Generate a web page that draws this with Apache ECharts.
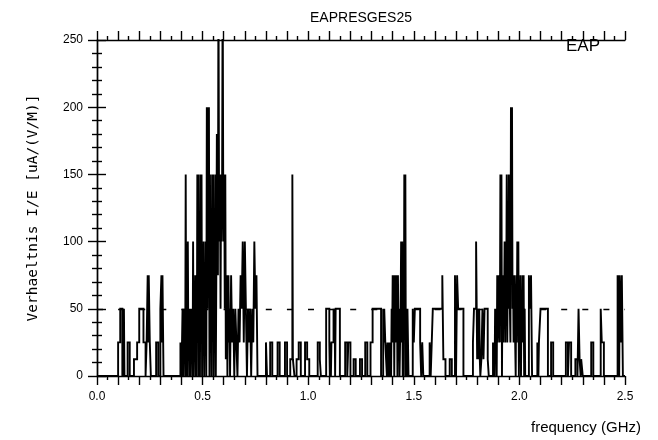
<!DOCTYPE html>
<html><head><meta charset="utf-8">
<script src="https://cdn.jsdelivr.net/npm/echarts@6/dist/echarts.min.js"></script>
<style>html,body{margin:0;padding:0;background:#fff}#c{width:658px;height:440px}</style>
</head><body><div id="c"></div>
<script>
// Step-function breakpoints [frequency GHz, value]; value holds until the next breakpoint.
const segA = [[0,0],[0.100,25],[0.110,50],[0.120,0],[0.1225,50],[0.125,0],[0.1275,50],[0.130,0],[0.145,25],[0.155,0],
 [0.175,12.5],[0.190,25],[0.200,50],[0.220,25],[0.230,0],[0.235,25],[0.240,75],[0.2425,25],[0.245,75],[0.250,25],[0.255,0],
 [0.280,25],[0.290,0],[0.300,50],[0.305,75],[0.3075,25],[0.310,75],[0.315,0],[0.395,25]];
// dense sample blocks (0.0025 GHz sampling)
const dense1Start = 0.400;
const dense1Vals = [0,25, 50,0, 50,25, 50,0, 150,0, 50,0, 100,25, 50,0, 50,0, 50,25, 50,0, 100,0, 50,25, 75,0, 50,0,
 150,25, 150,0, 50,0, 150,50, 150,0, 75,25, 100,0, 75,25, 100,0, 200,50, 200,135, 200,0, 150,25, 75,0, 150,50, 150,0,
 75,25, 150,0, 75,180, 100,75, 300,150, 100,150, 50,150, 100,150, 300,150, 100,150, 50,150, 12.5,50, 75,0, 50,75, 25,50];
const segB = [[0.630,0],[0.635,75],[0.640,25],[0.645,50],[0.650,0],[0.655,50],[0.660,25],[0.665,0],[0.670,50],[0.675,25],
 [0.680,75],[0.685,50],[0.690,100],[0.695,25],[0.700,100],[0.705,50],[0.710,0],[0.715,50],[0.720,25],[0.725,50],[0.730,0],
 [0.735,50],[0.740,25],[0.745,100],[0.750,50],[0.755,75],[0.760,0]];
const segC = [[0.800,25],[0.805,0],[0.820,25],[0.830,0],[0.855,25],[0.865,0],[0.890,25],[0.900,0],[0.915,12.5],[0.925,150],
 [0.9275,12.5],[0.935,0],[0.945,12.5],[0.955,25],[0.965,0],[0.985,25],[0.995,12.5],[1.005,0],[1.045,25],[1.055,12.5],[1.060,0],
 [1.085,50],[1.100,25],[1.1025,0],[1.105,25],[1.1075,0],[1.110,25],[1.120,50],[1.1225,25],[1.125,50],[1.1275,0],[1.130,50],
 [1.150,0],[1.175,25],[1.185,0],[1.190,25],[1.200,0],[1.215,12.5],[1.225,0],[1.245,12.5],[1.255,0],[1.270,25],[1.280,0],
 [1.295,25],[1.305,50],[1.345,0],[1.355,50],[1.3575,25],[1.360,50],[1.365,25]];
const dense2Start = 1.370;
const dense2Vals = [25,0, 25,0, 25,0, 25,0, 25,0, 50,25, 75,25, 75,0, 75,25, 75,50, 75,0, 75,25, 50,0, 25,50,
 100,25, 100,0, 50,0, 150,50, 150,0, 50,0, 50,25];
const segD = [[1.475,0],[1.495,50],[1.500,25],[1.505,50],[1.530,25],[1.535,0],[1.540,25],[1.545,0],[1.575,25],[1.580,0],
 [1.585,25],[1.590,50],[1.635,75],[1.640,12.5],[1.650,0],[1.670,12.5],[1.680,0],[1.695,75],[1.700,0],[1.705,75],[1.710,50],
 [1.735,0],[1.780,25],[1.785,50],[1.795,100],[1.800,12.5],[1.805,50],[1.8075,12.5],[1.810,50],[1.8125,12.5],[1.815,0],
 [1.820,12.5],[1.825,50],[1.830,12.5],[1.835,50],[1.850,12.5],[1.855,0],[1.875,25]];
const dense3Start = 1.880;
const dense3Vals = [25,0, 50,25, 50,0, 75,25, 75,50, 50,25, 150,50, 150,0, 75,25, 75,50, 100,25, 75,50, 150,25, 75,50,
 150,75, 75,25, 200,100, 200,50, 75,25, 75,50, 50,0, 75,25, 100,50, 100,0, 50,25, 75,0, 50,25, 75,50, 75,0, 50,0];
const segE = [[2.030,0],[2.045,75],[2.050,50],[2.055,75],[2.060,0],[2.085,25],[2.090,0],[2.0925,25],[2.100,50],[2.135,0],
 [2.150,25],[2.160,0],[2.220,25],[2.230,0],[2.235,25],[2.245,0],[2.265,12.5],[2.275,0],[2.280,50],[2.285,12.5],[2.290,0],
 [2.2925,12.5],[2.300,0],[2.340,25],[2.350,0],[2.385,50],[2.390,25],[2.400,0],[2.465,75],[2.4675,25],[2.470,75],[2.4725,0],
 [2.475,75],[2.480,25],[2.485,75],[2.490,0],[2.500,0]];
const sampleStep = 0.0025;
const xTickLabels = ['0.0','0.5','1.0','1.5','2.0','2.5'];
const yTickLabels = ['0','50','100','150','200','250'];
const threshold = 50;

function dense(start, vals) { return vals.map((v, i) => [start + i * sampleStep, v]); }
const bps = [].concat(segA, dense(dense1Start, dense1Vals), segB, segC, dense(dense2Start, dense2Vals),
  segD, dense(dense3Start, dense3Vals), segE);
// explicit step path: vertical jump at each breakpoint
const data = [];
bps.forEach((p, i) => { if (i > 0) data.push([p[0], bps[i - 1][1]]); data.push([p[0], p[1]]); });

const chart = echarts.init(document.getElementById('c'), null, {renderer: 'canvas'});
const axisFont = 'Liberation Sans, Arial, sans-serif';
function xAxisCfg(pos, labels) {
  return {
    type: 'value', position: pos, min: 0, max: 2.5, interval: 0.1,
    axisLine: {show: true, onZero: false, lineStyle: {color: '#000', width: 1.4}},
    axisTick: {show: true, inside: false, length: 9, lineStyle: {color: '#000', width: 1.4}},
    minorTick: {show: true, splitNumber: 2, length: 4, lineStyle: {color: '#000', width: 1.4}},
    splitLine: {show: false}, minorSplitLine: {show: false},
    axisLabel: {show: labels, margin: 15, color: '#000', fontSize: 12, fontFamily: axisFont,
      formatter: v => { const k = Math.round(v * 2); return Math.abs(v * 2 - k) < 1e-6 ? xTickLabels[k] : ''; }}
  };
}
function yAxisCfg(pos, labels) {
  return {
    type: 'value', position: pos, min: 0, max: 250, interval: 50,
    axisLine: {show: true, lineStyle: {color: '#000', width: 1.4}},
    axisTick: {show: true, inside: false, length: 9, lineStyle: {color: '#000', width: 1.4}},
    minorTick: {show: true, splitNumber: 5, length: 5, lineStyle: {color: '#000', width: 1.4}},
    splitLine: {show: false}, minorSplitLine: {show: false},
    axisLabel: {show: labels, margin: 14, color: '#000', fontSize: 12, fontFamily: axisFont,
      formatter: v => yTickLabels[Math.round(v / 50)]}
  };
}
const yA = yAxisCfg('left', true);
yA.name = 'Verhaeltnis I/E [uA/(V/M)]';
yA.nameLocation = 'middle';
yA.nameGap = 56;
yA.nameRotate = 90;
yA.nameTextStyle = {color: '#000', fontSize: 14.5, fontFamily: 'DejaVu Sans Mono, monospace'};

chart.setOption({
  animation: false,
  backgroundColor: '#fff',
  grid: {left: 97, right: 33, top: 40, bottom: 64},
  xAxis: [xAxisCfg('bottom', true), xAxisCfg('top', false)],
  yAxis: [yA, yAxisCfg('right', false)],
  graphic: [
    {type: 'text', x: 361, y: 11, style: {text: 'EAPRESGES25', fill: '#000', font: '14px Liberation Sans, Arial', textAlign: 'center'}},
    {type: 'text', x: 566, y: 38, style: {text: 'EAP', fill: '#000', font: '17px Liberation Sans, Arial', textAlign: 'left'}},
    {type: 'text', x: 641, y: 420, style: {text: 'frequency (GHz)', fill: '#000', font: '15px Liberation Sans, Arial', textAlign: 'right'}}
  ],
  series: [{
    type: 'line', data: data, xAxisIndex: 0, yAxisIndex: 0,
    showSymbol: false, symbol: 'none', clip: true, sampling: null,
    lineStyle: {color: '#000', width: 1.9, join: 'miter', cap: 'butt'},
    markLine: {
      silent: true, symbol: ['none', 'none'], label: {show: false},
      lineStyle: {color: '#000', width: 1.3, type: [6, 15.1]},
      data: [{yAxis: threshold}]
    }
  }]
});
</script></body></html>
